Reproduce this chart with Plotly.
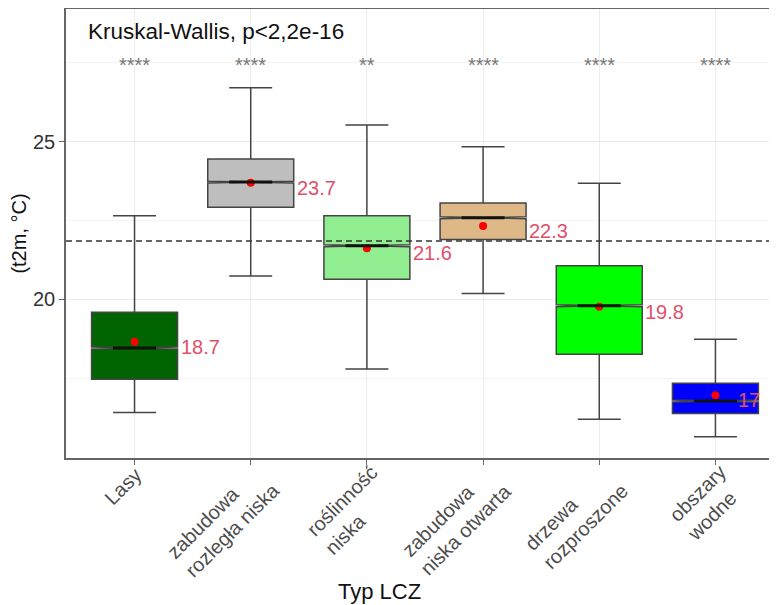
import plotly.graph_objects as go

# ---- data ----
categories = ["Lasy", "zabudowa rozległa niska", "roślinność niska",
              "zabudowa niska otwarta", "drzewa rozproszone", "obszary wodne"]
tick_labels = ["Lasy", "zabudowa<br>rozległa niska", "roślinność<br>niska",
               "zabudowa<br>niska otwarta", "drzewa<br>rozproszone", "obszary<br>wodne"]
lower_whisker = [16.41, 20.74, 17.79, 20.19, 16.20, 15.64]
q1_values     = [17.47, 22.92, 20.64, 21.90, 18.26, 16.38]
median_values = [18.46, 23.72, 21.70, 22.59, 19.80, 16.78]
q3_values     = [19.59, 24.45, 22.65, 23.06, 21.07, 17.34]
upper_whisker = [22.65, 26.71, 25.53, 24.84, 23.68, 18.74]
mean_values   = [18.66, 23.70, 21.62, 22.33, 19.77, 16.96]
signif_labels = ["****", "****", "**", "****", "****", "****"]
overall_mean = 21.85
test_label = "Kruskal-Wallis, p<2,2e-16"
x_title = "Typ LCZ"
y_title = "(t2m, °C)"

# ---- styles / geometry ----
fill_colors = ["#006400", "#BEBEBE", "#90EE90", "#DEB887", "#00FF00", "#0000FF"]
FONT = "Liberation Sans, Arial, sans-serif"
BOX_W = 0.74
LABEL_RED = "#E0506A"
FIG_W, FIG_H = 769, 597          # page body has an 8px margin
M_L, M_R, M_T, M_B = 58, 0, 1, 147
PLOT_W = FIG_W - M_L - M_R
X_RANGE = [-0.59, 5.53]
Y_RANGE = [14.97, 29.21]
PX_PER_CAT = PLOT_W / (X_RANGE[1] - X_RANGE[0])
TICK_FS = 20
LINE_H = 1.3 * TICK_FS

fig = go.Figure()

for i, cat in enumerate(categories):
    fig.add_trace(go.Box(
        x=[cat], name=cat,
        q1=[q1_values[i]], median=[median_values[i]], q3=[q3_values[i]],
        lowerfence=[lower_whisker[i]], upperfence=[upper_whisker[i]],
        notched=True, notchspan=[0.03], notchwidth=0.5,
        width=BOX_W, fillcolor=fill_colors[i],
        line=dict(color="#444444", width=1.5),
        boxpoints=False, showlegend=False, hoverinfo="skip",
    ))
    # thick median line (inner part between notches)
    fig.add_shape(type="line", xref="x", yref="y",
                  x0=i - BOX_W / 4, x1=i + BOX_W / 4,
                  y0=median_values[i], y1=median_values[i],
                  line=dict(color="#111111", width=3))
    # mean label (kept inside the panel, like a repelled label)
    txt = f"{round(mean_values[i], 1):g}"
    est_w = 0.56 * 20 * len(txt)
    cx_px = (i - X_RANGE[0]) * PX_PER_CAT
    if cx_px + BOX_W / 2 * PX_PER_CAT + est_w > PLOT_W - 15:
        fig.add_annotation(x=1, y=mean_values[i], xref="paper", yref="y", text=txt,
                           showarrow=False, xanchor="right", yanchor="middle",
                           xshift=-15, yshift=-5,
                           font=dict(family=FONT, size=20, color=LABEL_RED))
    else:
        fig.add_annotation(x=cat, y=mean_values[i], xref="x", yref="y", text=txt,
                           showarrow=False, xanchor="left", yanchor="middle",
                           xshift=BOX_W / 2 * PX_PER_CAT + 1, yshift=-5,
                           font=dict(family=FONT, size=20, color=LABEL_RED))
    # significance stars
    fig.add_annotation(x=cat, y=27.5, xref="x", yref="y", text=signif_labels[i],
                       showarrow=False, xanchor="center", yanchor="middle", yshift=-2,
                       font=dict(family=FONT, size=20, color="#777777"))
    # rotated category label, lines left-aligned
    n_lines = tick_labels[i].count("<br>") + 1
    fig.add_annotation(x=cat, y=0, xref="x", yref="paper", text=tick_labels[i],
                       showarrow=False, textangle=-45, align="left",
                       xanchor="right", yanchor="top",
                       xshift=0.707 * n_lines * LINE_H - 4 + (n_lines - 1) * 3,
                       yshift=-3 + (n_lines - 1) * 3,
                       font=dict(family=FONT, size=TICK_FS, color="#4D4D4D"))

# mean points
fig.add_trace(go.Scatter(x=categories, y=mean_values, mode="markers",
                         marker=dict(color="#FF0000", size=8),
                         showlegend=False, hoverinfo="skip"))

# overall mean dashed line
fig.add_shape(type="line", xref="paper", yref="y", x0=0, x1=1,
              y0=overall_mean, y1=overall_mean,
              line=dict(color="#333333", width=1.5, dash="6px,4px"))

# test label
fig.add_annotation(x=0.0281, y=28.49, xref="paper", yref="y", text=test_label,
                   showarrow=False, xanchor="left", yanchor="middle",
                   font=dict(family=FONT, size=22.5, color="#111111"))

# x axis title
fig.add_annotation(x=0.4416, y=-0.2984, xref="paper", yref="paper", text=x_title,
                   showarrow=False, xanchor="center", yanchor="middle",
                   font=dict(family=FONT, size=22, color="#111111"))

fig.update_layout(
    width=FIG_W, height=FIG_H,
    margin=dict(l=M_L, r=M_R, t=M_T, b=M_B, autoexpand=False),
    paper_bgcolor="white", plot_bgcolor="white",
    boxmode="overlay",
    font=dict(family=FONT, color="#333333"),
    showlegend=False,
)
fig.update_xaxes(
    type="category", categoryorder="array", categoryarray=categories,
    showticklabels=False,
    range=X_RANGE,
    showgrid=True, gridcolor="#EDEDED", gridwidth=1,
    showline=True, linecolor="#666666", linewidth=1.5, mirror=True,
    ticks="outside", ticklen=5, tickcolor="#666666",
    zeroline=False, automargin=False,
)
fig.update_yaxes(
    range=Y_RANGE, tickvals=[20, 25],
    showgrid=True, gridcolor="#EBEBEB", gridwidth=1,
    minor=dict(tickvals=[17.5, 22.5, 27.5], showgrid=True, gridcolor="#F4F4F4", ticklen=0),
    showline=True, linecolor="#666666", linewidth=1.5, mirror=False,
    ticks="outside", ticklen=5, tickcolor="#666666",
    tickfont=dict(family=FONT, size=20, color="#333333"),
    title=dict(text=y_title, font=dict(family=FONT, size=20, color="#111111"), standoff=3),
    zeroline=False, automargin=False,
)

fig.write_html("out.html")
